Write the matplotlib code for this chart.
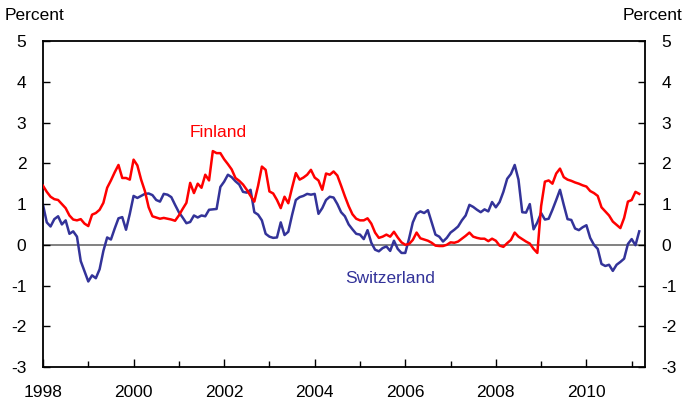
import matplotlib.pyplot as plt
import numpy as np

plt.rcParams['font.family'] = ['Liberation Sans', 'DejaVu Sans']
plt.rcParams['axes.unicode_minus'] = False

# monthly, Jan 1998 - Mar 2011
finland = [1.45, 1.3, 1.18, 1.12, 1.1, 1.0, 0.9, 0.72, 0.62, 0.6, 0.63, 0.52,
           0.46, 0.74, 0.78, 0.86, 1.03, 1.4, 1.58, 1.78, 1.96, 1.64, 1.64, 1.6,
           2.09, 1.95, 1.6, 1.32, 0.92, 0.7, 0.67, 0.64, 0.66, 0.64, 0.62, 0.59,
           0.72, 0.88, 1.03, 1.52, 1.27, 1.5, 1.4, 1.72, 1.58, 2.3, 2.25, 2.25,
           2.1, 1.98, 1.85, 1.64, 1.57, 1.48, 1.35, 1.2, 1.06, 1.45, 1.92, 1.84,
           1.31, 1.26, 1.1, 0.9, 1.18, 1.02, 1.4, 1.76, 1.6, 1.65, 1.72, 1.84,
           1.65, 1.58, 1.35, 1.75, 1.72, 1.8, 1.7, 1.45, 1.19, 0.95, 0.75, 0.64,
           0.6, 0.6, 0.65, 0.52, 0.3, 0.17, 0.2, 0.25, 0.2, 0.32, 0.18, 0.06,
           0.0, 0.02, 0.12, 0.3, 0.16, 0.13, 0.1, 0.05, -0.02, -0.03, -0.03, 0.0,
           0.06, 0.05, 0.08, 0.15, 0.22, 0.3, 0.2, 0.17, 0.15, 0.15, 0.09, 0.15,
           0.1, -0.02, -0.05, 0.04, 0.12, 0.3, 0.2, 0.14, 0.08, 0.03, -0.1, -0.2,
           0.95, 1.55, 1.58, 1.5, 1.75, 1.87, 1.66, 1.6, 1.57, 1.53, 1.5, 1.46,
           1.43, 1.32, 1.27, 1.2, 0.92, 0.82, 0.72, 0.57, 0.49, 0.41, 0.66, 1.06,
           1.1, 1.3, 1.25]

switzerland = [0.98, 0.55, 0.45, 0.63, 0.7, 0.5, 0.6, 0.27, 0.33, 0.2, -0.4, -0.65,
               -0.9, -0.75, -0.82, -0.6, -0.15, 0.18, 0.13, 0.4, 0.65, 0.68, 0.37, 0.76,
               1.2, 1.15, 1.2, 1.25, 1.26, 1.22, 1.1, 1.06, 1.25, 1.23, 1.17, 0.98,
               0.8, 0.67, 0.53, 0.56, 0.72, 0.67, 0.72, 0.7, 0.86, 0.87, 0.88, 1.42,
               1.55, 1.72, 1.66, 1.56, 1.48, 1.3, 1.28, 1.35, 0.8, 0.74, 0.6, 0.27,
               0.2, 0.17, 0.18, 0.55, 0.24, 0.32, 0.73, 1.1, 1.17, 1.2, 1.25, 1.23,
               1.25, 0.76, 0.9, 1.1, 1.18, 1.16, 1.0, 0.8, 0.7, 0.5, 0.38, 0.27,
               0.25, 0.14, 0.36, 0.05, -0.12, -0.16, -0.08, -0.04, -0.15, 0.1, -0.1, -0.2,
               -0.2, 0.15, 0.55, 0.76, 0.82, 0.78, 0.85, 0.55, 0.25, 0.2, 0.08, 0.17,
               0.3, 0.37, 0.45, 0.6, 0.72, 0.98, 0.93, 0.86, 0.8, 0.87, 0.82, 1.05,
               0.92, 1.05, 1.3, 1.62, 1.74, 1.96, 1.6, 0.8, 0.79, 1.0, 0.38, 0.55,
               0.78, 0.62, 0.64, 0.86, 1.1, 1.35, 0.98, 0.63, 0.61, 0.4, 0.36, 0.43,
               0.48, 0.17, 0.0, -0.1, -0.47, -0.52, -0.49, -0.64, -0.49, -0.42, -0.34, 0.02,
               0.14, -0.01, 0.33]

t = 1998 + np.arange(len(finland)) / 12.0
red = '#ff0000'
blue = '#333399'

fig = plt.figure(figsize=(6.87, 4.11), dpi=100)
ax = fig.add_axes([0.0626, 0.107, 0.876, 0.793])

ax.axhline(0, color='#777777', lw=1.3, zorder=1)
ax.plot(t, finland, color=red, lw=1.8, zorder=3)
ax.plot(t, switzerland, color=blue, lw=1.8, zorder=2)

ax.set_xlim(1998, 2011.29)
ax.set_ylim(-3, 5)
ax.set_yticks(range(-3, 6))
ax.set_xticks(range(1998, 2011, 2))
ax.set_xticks(range(1999, 2012, 2), minor=True)

for s in ax.spines.values():
    s.set_linewidth(1.3)
ax.tick_params(axis='y', direction='in', left=True, right=True,
               labelleft=True, labelright=True, length=5, width=1, pad=12,
               labelsize=12.5)
ax.tick_params(axis='x', which='major', direction='in', length=6, width=1,
               pad=13, labelsize=12.5)
ax.tick_params(axis='x', which='minor', direction='in', length=4, width=1)

fig.text(0.007, 0.962, 'Percent', fontsize=12.5, ha='left', va='center')
fig.text(0.993, 0.962, 'Percent', fontsize=12.5, ha='right', va='center')

ax.text(2001.86, 2.75, 'Finland', color=red, fontsize=12.5, ha='center', va='center')
ax.text(2005.66, -0.82, 'Switzerland', color=blue, fontsize=12.5, ha='center', va='center')

fig.savefig('out.png', dpi=100)
